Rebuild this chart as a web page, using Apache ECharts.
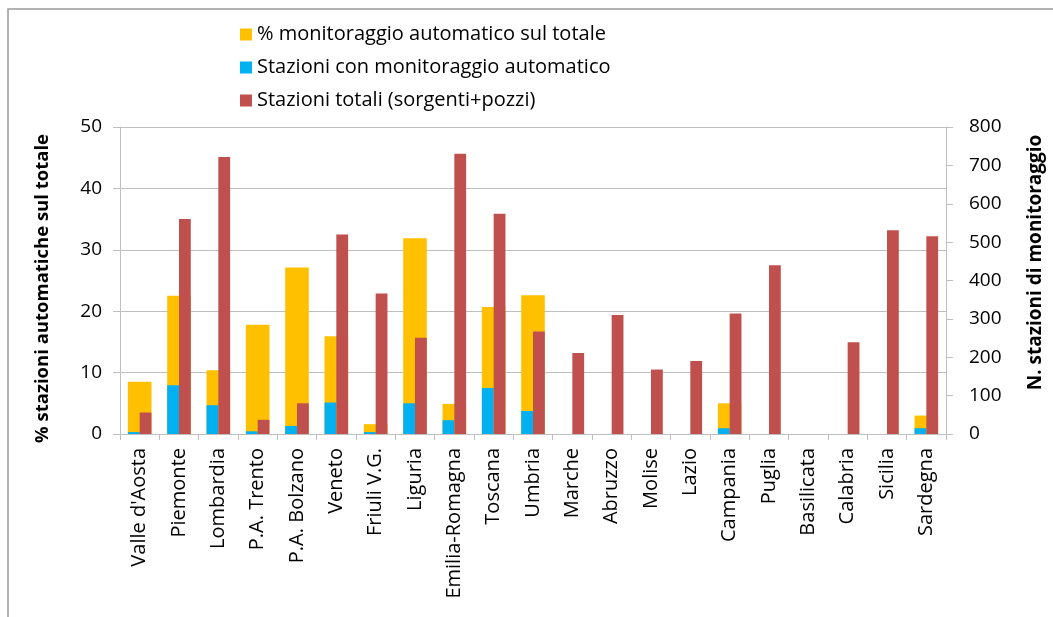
<!DOCTYPE html>
<html><head><meta charset="utf-8">
<script src="https://cdn.jsdelivr.net/npm/echarts@6/dist/echarts.min.js"></script>
<style>html,body{margin:0;padding:0;background:#fff}#c{width:1053px;height:617px}</style>
</head><body><div id="c"></div>
<script>
const categories = ["Valle d'Aosta","Piemonte","Lombardia","P.A. Trento","P.A. Bolzano","Veneto","Friuli V.G.","Liguria","Emilia-Romagna","Toscana","Umbria","Marche","Abruzzo","Molise","Lazio","Campania","Puglia","Basilicata","Calabria","Sicilia","Sardegna"];
const pctAutomatic = [8.5,22.5,10.4,17.8,27.1,15.9,1.6,31.9,4.9,20.7,22.6,0,0,0,0,5.0,0,0,0,0,3.0];
const stationsAutomatic = [5,127,75,7,21,82,5,80,36,120,60,0,0,0,0,15,0,0,0,0,15];
const stationsTotal = [56,560,722,37,80,520,366,251,730,574,267,211,310,168,190,314,440,0,239,531,515];
const leftTicks = {min:0,max:50,interval:10};
const rightTicks = {min:0,max:800,interval:100};

const FONT = "'Open Sans', sans-serif";
const chart = echarts.init(document.getElementById('c'), null, {renderer:'canvas'});
chart.setOption({
  animation:false,
  backgroundColor:'#fff',
  textStyle:{fontFamily:FONT},
  graphic:[{type:'polyline',shape:{points:[[8,617],[8,9],[1053,9]]},style:{stroke:'#9a9a9a',lineWidth:1.5,fill:null}}],
  legend:{
    orient:'vertical', left:235, top:16, itemGap:6, itemWidth:12, itemHeight:12,
    icon:'rect',
    textStyle:{fontFamily:FONT,fontSize:20,color:'#000',lineHeight:27},
    data:['% monitoraggio automatico sul totale','Stazioni con monitoraggio automatico','Stazioni totali (sorgenti+pozzi)']
  },
  grid:{left:120,right:107,top:127,bottom:183},
  xAxis:[
    {type:'category',data:categories,
     axisLine:{lineStyle:{color:'#bfbfbf'}},
     axisTick:{show:true,length:6,lineStyle:{color:'#bfbfbf'}},
     axisLabel:{rotate:90,interval:0,fontSize:20,color:'#000',fontFamily:FONT,margin:14}},
    {type:'category',data:categories,show:false}
  ],
  yAxis:[
    {type:'value',min:leftTicks.min,max:leftTicks.max,interval:leftTicks.interval,position:'left',
     name:'% stazioni automatiche sul totale',nameLocation:'middle',nameRotate:90,nameGap:68,
     nameTextStyle:{fontSize:18.5,fontWeight:'bold',color:'#000',fontFamily:FONT,padding:[0,16,0,0]},
     axisLine:{show:true,lineStyle:{color:'#bfbfbf'}},
     axisTick:{show:true,length:7,lineStyle:{color:'#bfbfbf'}},
     axisLabel:{fontSize:19,color:'#000',margin:18,fontFamily:FONT},
     splitLine:{lineStyle:{color:'#bfbfbf',width:1.2}}},
    {type:'value',min:rightTicks.min,max:rightTicks.max,interval:rightTicks.interval,position:'right',
     name:'N. stazioni di monitoraggio',nameLocation:'middle',nameRotate:90,nameGap:80,
     nameTextStyle:{fontSize:19,fontWeight:'bold',color:'#000',fontFamily:FONT,padding:[0,0,0,36]},
     axisLine:{show:true,lineStyle:{color:'#bfbfbf'}},
     axisTick:{show:true,length:7,lineStyle:{color:'#bfbfbf'}},
     axisLabel:{fontSize:19,color:'#000',margin:23,fontFamily:FONT},
     splitLine:{show:false}}
  ],
  series:[
    {name:'% monitoraggio automatico sul totale',type:'bar',xAxisIndex:0,yAxisIndex:0,
     data:pctAutomatic,barWidth:'60%',itemStyle:{color:'#FFC000'}},
    {name:'Stazioni con monitoraggio automatico',type:'bar',xAxisIndex:1,yAxisIndex:1,
     data:stationsAutomatic,barWidth:'30%',barGap:'0%',itemStyle:{color:'#00B0F0'}},
    {name:'Stazioni totali (sorgenti+pozzi)',type:'bar',xAxisIndex:1,yAxisIndex:1,
     data:stationsTotal,barWidth:'30%',barGap:'0%',itemStyle:{color:'#C0504D'}}
  ]
});
</script></body></html>
